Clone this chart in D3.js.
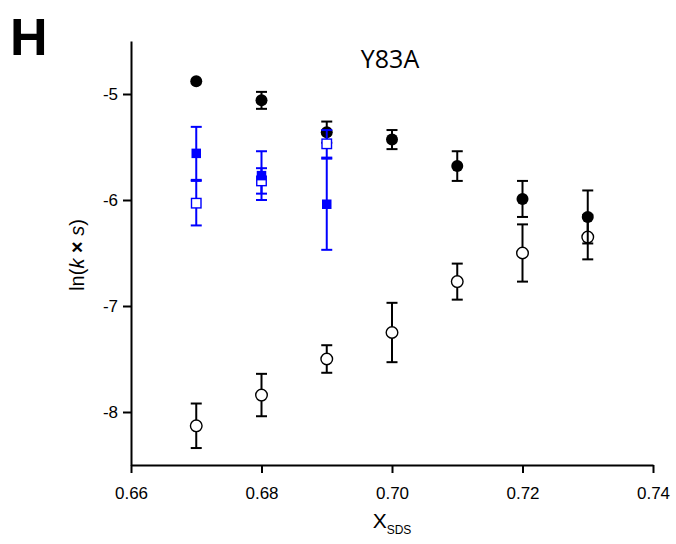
<!DOCTYPE html>
<html>
<head>
<meta charset="utf-8">
<script src="https://cdn.jsdelivr.net/npm/d3@7"></script>
<style>
  html, body { margin: 0; padding: 0; background: #fff; }
  svg { display: block; }
</style>
</head>
<body>
<svg id="chart" width="676" height="544"></svg>
<script>
// SDS mole fraction for each measurement
const xBlack = [0.67, 0.68, 0.69, 0.70, 0.71, 0.72, 0.73];
// filled circles: ln(k x s) and error
const filledCircle = [-4.88, -5.06, -5.36, -5.43, -5.68, -5.99, -6.16];
const filledCircleErr = [0.0, 0.08, 0.10, 0.09, 0.14, 0.17, 0.25];
// open circles
const openCircle = [-8.13, -7.84, -7.50, -7.25, -6.77, -6.50, -6.35];
const openCircleErr = [0.21, 0.20, 0.13, 0.28, 0.17, 0.27, 0.21];

const xBlue = [0.67, 0.68, 0.69];
// filled squares (blue)
const filledSquare = [-5.56, -5.77, -6.04];
const filledSquareErr = [0.25, 0.23, 0.43];
// open squares (blue)
const openSquare = [-6.03, -5.82, -5.47];
const openSquareErr = [0.21, 0.12, 0.13];

const xTicks = [0.66, 0.68, 0.70, 0.72, 0.74];
const yTicks = [-8, -7, -6, -5];

const svg = d3.select("#chart");
const x = d3.scaleLinear().domain([0.66, 0.74]).range([131, 653]);
const y = d3.scaleLinear().domain([-8.5, -4.5]).range([465, 41]);

const BLUE = "#0000ff";
const tickFont = "'Liberation Sans', Arial, sans-serif";

// axes
const xAxis = svg.append("g").attr("transform", `translate(0,${y(-8.5)})`)
  .call(d3.axisBottom(x).tickValues(xTicks).tickFormat(d3.format(".2f")).tickSize(8).tickPadding(6).tickSizeOuter(0));
const yAxis = svg.append("g").attr("transform", `translate(${x(0.66)},0)`)
  .call(d3.axisLeft(y).tickValues(yTicks).tickFormat(d => d3.format("d")(d).replace("−", "-")).tickSize(8).tickPadding(5).tickSizeOuter(0));
[xAxis, yAxis].forEach(g => {
  g.select(".domain").attr("stroke", "#000").attr("stroke-width", 2);
  g.selectAll(".tick line").attr("stroke", "#000").attr("stroke-width", 2);
  g.selectAll(".tick text").attr("fill", "#000").style("font-family", tickFont).style("font-size", "17px");
});
xAxis.selectAll(".tick text").attr("dy", "1.2em");

// error bars with caps
function errorBars(xs, ys, es, color, cls) {
  const g = svg.append("g").attr("class", cls);
  const cap = 5.5;
  xs.forEach((xv, i) => {
    if (es[i] <= 0) return;
    const px = x(xv), y0 = y(ys[i] - es[i]), y1 = y(ys[i] + es[i]);
    g.append("line").attr("x1", px).attr("x2", px).attr("y1", y0).attr("y2", y1)
      .attr("stroke", color).attr("stroke-width", 2);
    [y0, y1].forEach(py => g.append("line").attr("x1", px - cap).attr("x2", px + cap)
      .attr("y1", py).attr("y2", py).attr("stroke", color).attr("stroke-width", 2));
  });
}

// open circles
errorBars(xBlack, openCircle, openCircleErr, "#000", "err-open-circle");
svg.append("g").selectAll("circle").data(openCircle).join("circle")
  .attr("cx", (d, i) => x(xBlack[i])).attr("cy", d => y(d)).attr("r", 5.8)
  .attr("fill", "#fff").attr("stroke", "#000").attr("stroke-width", 1.4);

// filled circles
errorBars(xBlack, filledCircle, filledCircleErr, "#000", "err-filled-circle");
svg.append("g").selectAll("circle").data(filledCircle).join("circle")
  .attr("cx", (d, i) => x(xBlack[i])).attr("cy", d => y(d)).attr("r", 6)
  .attr("fill", "#000");

// blue squares
const sq = 9.5;
errorBars(xBlue, openSquare, openSquareErr, BLUE, "err-open-square");
errorBars(xBlue, filledSquare, filledSquareErr, BLUE, "err-filled-square");
svg.append("g").selectAll("rect").data(openSquare).join("rect")
  .attr("x", (d, i) => x(xBlue[i]) - sq / 2).attr("y", d => y(d) - sq / 2)
  .attr("width", sq).attr("height", sq)
  .attr("fill", "#fff").attr("stroke", BLUE).attr("stroke-width", 1.4);
svg.append("g").selectAll("rect").data(filledSquare).join("rect")
  .attr("x", (d, i) => x(xBlue[i]) - sq / 2).attr("y", d => y(d) - sq / 2)
  .attr("width", sq).attr("height", sq)
  .attr("fill", BLUE);

// panel letter
svg.append("text").attr("x", 10).attr("y", 55).text("H")
  .style("font-family", tickFont).style("font-weight", "bold").style("font-size", "52px");

// title
svg.append("text").attr("x", 390).attr("y", 68).attr("text-anchor", "middle").text("Y83A")
  .style("font-family", "'Open Sans', sans-serif").style("font-size", "25px");

// y label
const yl = svg.append("text").attr("transform", "translate(84,255) rotate(-90)")
  .attr("text-anchor", "middle")
  .style("font-family", tickFont).style("font-size", "20px");
yl.append("tspan").text("ln(");
yl.append("tspan").style("font-style", "italic").text("k");
yl.append("tspan").style("font-weight", "bold").text(" \u00d7 ");
yl.append("tspan").style("font-style", "italic").text("s");
yl.append("tspan").text(")");

// x label
const xl = svg.append("text").attr("x", 392).attr("y", 528).attr("text-anchor", "middle")
  .style("font-family", tickFont).style("font-size", "21px");
xl.append("tspan").text("X");
xl.append("tspan").attr("dy", 6).style("font-size", "12px").text("SDS");
</script>
</body>
</html>
